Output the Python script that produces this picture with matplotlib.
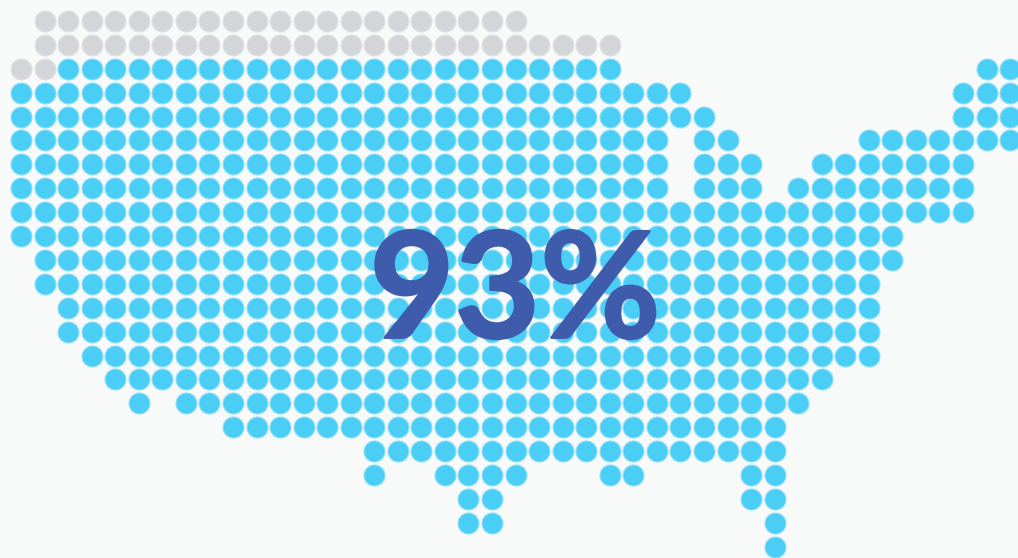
#!/usr/bin/env python3
import matplotlib
matplotlib.use('Agg')
import matplotlib.pyplot as plt
import matplotlib.patheffects as pe

# row number -> (first column, last column) runs of dots
gray_runs = {
    0: [(1, 21)],
    1: [(1, 25)],
    2: [(0, 1)],
}
blue_runs = {
    2: [(2, 25), (41, 42)],
    3: [(0, 28), (40, 42)],
    4: [(0, 29), (40, 42)],
    5: [(0, 27), (29, 30), (36, 42)],
    6: [(0, 27), (29, 31), (34, 40)],
    7: [(0, 27), (29, 31), (33, 40)],
    8: [(0, 40)],
    9: [(0, 37)],
    10: [(1, 37)],
    11: [(1, 36)],
    12: [(2, 36)],
    13: [(2, 36)],
    14: [(3, 36)],
    15: [(4, 34)],
    16: [(5, 5), (7, 33)],
    17: [(9, 32)],
    18: [(15, 32)],
    19: [(15, 15), (18, 21), (25, 26), (31, 32)],
    20: [(19, 20), (31, 32)],
    21: [(19, 20), (32, 32)],
    22: [(32, 32)],
}
label = '93%'

BG = '#f8fafa'
BLUE = '#4bcef6'
GRAY = '#d4d5d8'
INK = '#3e5cab'


def expand(runs):
    xs, ys = [], []
    for row, spans in runs.items():
        for a, b in spans:
            for col in range(a, b + 1):
                xs.append(col)
                ys.append(row)
    return xs, ys


fig = plt.figure(figsize=(10.18, 5.58), dpi=100)
fig.patch.set_facecolor(BG)
ax = fig.add_axes([0, 0, 1, 1])
ax.set_facecolor(BG)
# one column = 23.55 px, one row = 23.9 px, first dot centre at (21, 21)
ax.set_xlim(-21 / 23.55, (1018 - 21) / 23.55)
ax.set_ylim((558 - 21) / 23.9, -21 / 23.9)
ax.axis('off')

size = 228
x, y = expand(gray_runs)
ax.scatter(x, y, s=size, c=GRAY, edgecolors='#e2e3e5', linewidths=0.8, zorder=2)
x, y = expand(blue_runs)
ax.scatter(x, y, s=size, c=BLUE, edgecolors='#93dff7', linewidths=0.8, zorder=2)

# Lato bold is a little thin next to the original, so thicken it with a stroke
txt = ax.text(0.506, 0.471, label, transform=ax.transAxes, ha='center', va='center',
              fontsize=106, family=['Lato', 'DejaVu Sans'], fontweight='bold',
              color=INK, zorder=3)
txt.set_path_effects([pe.withStroke(linewidth=1.8, foreground=INK)])

fig.savefig('out.png', dpi=100, facecolor=fig.get_facecolor())
